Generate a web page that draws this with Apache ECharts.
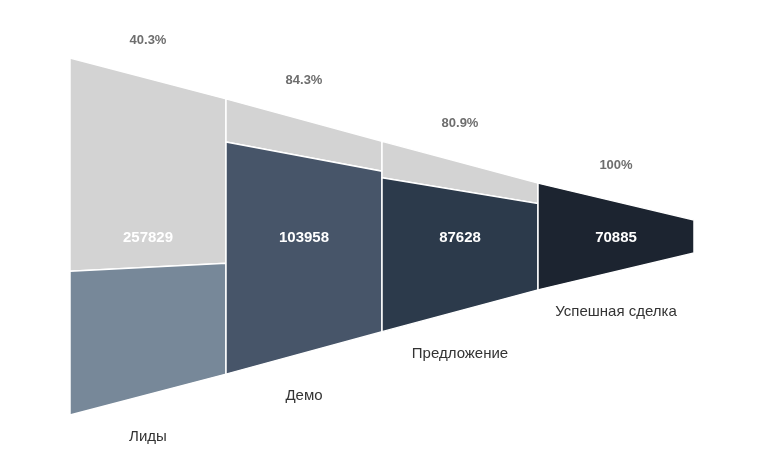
<!DOCTYPE html>
<html>
<head>
<meta charset="utf-8">
<script src="https://cdn.jsdelivr.net/npm/echarts@6/dist/echarts.min.js"></script>
<style>
  html, body { margin: 0; padding: 0; background: #fff; }
  #chart { width: 759px; height: 459px; }
</style>
</head>
<body>
<div id="chart"></div>
<script>
// этапы воронки
const stages = ['Лиды', 'Демо', 'Предложение', 'Успешная сделка'];
const stageValues = [257829, 103958, 87628, 70885];
// доля, перешедшая на следующий этап
const passRates = [40.3, 84.3, 80.9, 100];

const stageColors = ['#778899', '#475569', '#2c3a4b', '#1c2430'];
const lostColor = '#d3d3d3';
// относительная полувысота воронки на границах этапов
const profile = [1, 0.771, 0.533, 0.299, 0.092];

const chart = echarts.init(document.getElementById('chart'));

function renderStage(params, api) {
  const i = params.dataIndex;
  const rate = api.value(2) / 100;
  const h0 = profile[i], h1 = profile[i + 1];
  const tl = api.coord([i, h0]), tr = api.coord([i + 1, h1]);
  const bl = api.coord([i, -h0]), br = api.coord([i + 1, -h1]);
  const ml = api.coord([i, -h0 + 2 * h0 * rate]);
  const mr = api.coord([i + 1, -h1 + 2 * h1 * rate]);
  const mid = api.coord([i + 0.5, 0]);
  const border = { stroke: '#fff', lineWidth: 1.5 };
  const font = 'Liberation Sans, Arial, sans-serif';
  const children = [];
  if (rate < 1) {
    children.push({
      type: 'polygon',
      shape: { points: [tl, tr, mr, ml] },
      style: Object.assign({ fill: lostColor }, border)
    });
  }
  children.push({
    type: 'polygon',
    shape: { points: [ml, mr, br, bl] },
    style: Object.assign({ fill: stageColors[i] }, border)
  });
  children.push({
    type: 'text',
    style: {
      text: String(api.value(1)), x: mid[0], y: mid[1] + 1,
      fill: '#fff', fontSize: 15, fontWeight: 'bold', fontFamily: font,
      align: 'center', verticalAlign: 'middle'
    }
  });
  children.push({
    type: 'text',
    style: {
      text: passRates[i] + '%', x: mid[0], y: tl[1] - 18,
      fill: '#6e6e6e', fontSize: 13, fontWeight: 'bold', fontFamily: font,
      align: 'center', verticalAlign: 'middle'
    }
  });
  children.push({
    type: 'text',
    style: {
      text: stages[i], x: mid[0], y: bl[1] + 22,
      fill: '#333', fontSize: 15, fontFamily: font,
      align: 'center', verticalAlign: 'middle'
    }
  });
  return { type: 'group', children: children };
}

chart.setOption({
  animation: false,
  grid: { left: 70, right: 65, top: 58, bottom: 44 },
  xAxis: { type: 'value', min: 0, max: stages.length, show: false },
  yAxis: { type: 'value', min: -1, max: 1, show: false },
  series: [{
    type: 'custom',
    renderItem: renderStage,
    clip: false,
    data: stages.map((s, i) => [i, stageValues[i], passRates[i]])
  }]
});
</script>
</body>
</html>
